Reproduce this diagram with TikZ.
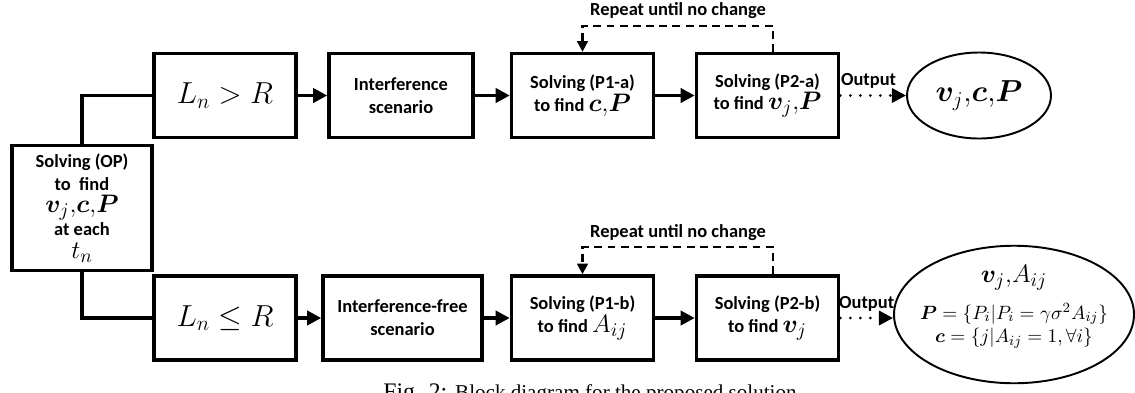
\documentclass[tikz,border=0pt]{standalone}
\usepackage{amsmath}
\usepackage{bm}
\usepackage[no-math]{fontspec}
\setmainfont{Liberation Serif}
\newfontfamily\blockfont{Carlito}
\usepackage{tikz}
\usetikzlibrary{positioning,arrows.meta,shapes.geometric}
\newcommand{\mathlarge}[1]{{\fontsize{15}{15}\selectfont$#1$}}

\begin{document}
\begin{tikzpicture}[
  blk/.style={draw, line width=2pt, minimum width=2.84cm, minimum height=1.68cm,
    align=center, inner sep=1pt, font=\blockfont\bfseries\fontsize{10.5}{13}\selectfont},
  txt/.style={inner sep=1pt, font=\blockfont\bfseries\fontsize{10.5}{12}\selectfont},
  link/.style={line width=2pt, -{Triangle[length=8pt,width=8pt]}},
  bus/.style={line width=2pt},
  again/.style={line width=1.4pt, dash pattern=on 4.5pt off 3pt, -{Triangle[length=6pt,width=6pt]}},
  outp/.style={line width=1.7pt, line cap=round, dash pattern=on 0pt off 5.7pt,
    -{Triangle[length=8pt,width=8pt]}},
  res/.style={draw, ellipse, line width=1.1pt, inner sep=0pt, align=center}
]
\useasboundingbox (0,0) rectangle (22.7,7.84);

% solver
\node[blk, minimum width=2.8cm, minimum height=2.5cm] (op) at (1.64,3.68)
  {Solving (OP)\\ to\ \ find\\ \mathlarge{\bm{v}_j{,}\bm{c}{,}\bm{P}}\\ at each\\ \mathlarge{t_n}};

% upper branch
\node[blk] (lgt) at (4.5,5.93) {\fontsize{17}{18}\selectfont$L_n>R$};
\node[blk, minimum width=2.88cm] (intf) at (8.02,5.93) {Interference\\ scenario};
\node[blk] (p1a) at (11.65,5.93) {Solving (P1-a)\\ to find \mathlarge{\bm{c}{,}\bm{P}}};
\node[blk] (p2a) at (15.35,5.93) {Solving (P2-a)\\ to find \mathlarge{\bm{v}_j{,}\bm{P}}};
\node[res, minimum width=2.88cm, minimum height=1.72cm] (outa) at (19.58,5.93)
  {\fontsize{17.5}{18}\selectfont$\bm{v}_j{,}\bm{c}{,}\bm{P}$};

% lower branch
\node[blk] (lle) at (4.5,1.48) {\fontsize{17}{18}\selectfont$L_n\leq R$};
\node[blk, minimum width=3.18cm] (intff) at (8.05,1.48) {Interference-free\\ scenario};
\node[blk] (p1b) at (11.65,1.48) {Solving (P1-b)\\ to find \mathlarge{A_{ij}}};
\node[blk] (p2b) at (15.35,1.48) {Solving (P2-b)\\ to find \mathlarge{\bm{v}_j}};
\node[res, minimum width=4.8cm, minimum height=2.75cm] (outb) at (20.28,1.55) {};
\node[align=center, inner sep=0pt] (outbtxt) at ([yshift=0.15cm]outb.center)
  {\fontsize{15.5}{16}\selectfont$\bm{v}_j{,}A_{ij}$\\[6pt]
   \fontsize{11.2}{13.5}\selectfont$\bm{P}=\{P_i|P_i=\gamma\sigma^2A_{ij}\}$\\[1.5pt]
   \fontsize{11.2}{13.5}\selectfont$\bm{c}=\{j|A_{ij}=1,\forall i\}$};

\draw[bus] (op.north) |- (lgt.west);
\draw[bus] (op.south) |- (lle.west);

\draw[link] (lgt) -- (intf);
\draw[link] (intf) -- (p1a);
\draw[link] (p1a) -- (p2a);
\draw[link] (lle) -- (intff);
\draw[link] (intff) -- (p1b);
\draw[link] (p1b) -- (p2b);

\draw[again] ([xshift=0.11cm]p2a.north) -- ++(0,0.52) -| (p1a.north);
\node[txt] (rpta) at (13.56,7.62) {Repeat until no change};
\draw[again] ([xshift=0.11cm]p2b.north) -- ++(0,0.54) -| (p1b.north);
\node[txt] (rptb) at (13.56,3.18) {Repeat until no change};

\draw[outp] (p2a) -- node[txt, above=2pt, pos=0.43] (oa) {Output} (outa);
\draw[outp] (p2b.east) -- node[txt, above=2pt, pos=0.5] (ob) {Output} (p2b.east -| outb.west);

% caption, cut by the page edge
\node[anchor=north, inner sep=0pt] (cap) at (11.8,0.18)
  {\fontsize{13.5}{15}\selectfont Fig. 2: \fontsize{12}{14}\selectfont Block diagram for the proposed solution};
\end{tikzpicture}
\end{document}
